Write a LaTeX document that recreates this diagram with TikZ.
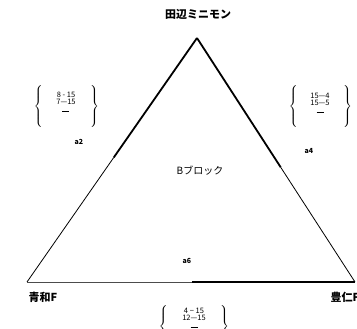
\documentclass[tikz,border=0pt]{standalone}
\usepackage{fontspec}
\newfontfamily\jpfont{Noto Sans CJK JP}
\usetikzlibrary{calc}

\newcommand{\lbr}{$\left\{\rule[-20pt]{0pt}{40pt}\right.$}
\newcommand{\rbr}{$\left.\rule[-20pt]{0pt}{40pt}\right\}$}

\begin{document}
\begin{tikzpicture}[x=1pt,y=-1pt,line join=round,
    station/.style={font=\jpfont\bfseries\fontsize{11}{12}\selectfont},
    tag/.style={font=\jpfont\bfseries\fontsize{7}{8}\selectfont},
    group/.style={font=\jpfont\fontsize{7.5}{7.5}\selectfont,inner sep=0pt,align=center},
    brc/.style={inner sep=0pt}]
  \useasboundingbox (0,0) rectangle (357,329);
  \coordinate (T) at (197,38);
  \coordinate (L) at (27,282);
  \coordinate (R) at (355,282);
  \coordinate (LM) at ($(T)!0.49!(L)$);
  \coordinate (RM) at ($(T)!0.53!(R)$);
  \coordinate (BM) at (192,282);
  % edges of the triangle
  \draw[line width=1.8pt] (T) -- (LM);
  \draw[line width=0.8pt] (LM) -- (L);
  \draw[line width=1.8pt] (T) -- (RM);
  \draw[line width=0.8pt] (RM) -- (R);
  \draw[line width=0.9pt,black!70] (L) -- (BM);
  \draw[line width=1.8pt] (BM) -- (R);
  % stations
  \node[station] (tanabe) at (198,14) {田辺ミニモン};
  \node[station] (seiwa) at (43,297) {青和F};
  \node[station,anchor=west] (toyohito) at (327,297) {豊仁F};
  \node[font=\jpfont\fontsize{10}{11}\selectfont] (block) at (200,171) {Bブロック};
  % links
  \node[tag] (a2) at (79,142) {a2};
  \node[tag] (a4) at (309,151) {a4};
  \node[tag] (a6) at (187,261) {a6};
  % groups in braces
  \node[group] (grpA) at (66,103) {8 - 15\\7—15\\[1.5pt]\rule[2pt]{7pt}{0.5pt}};
  \node[brc] (grpAl) at (39,107) {\lbr};
  \node[brc] (grpAr) at (94,107) {\rbr};
  \node[group] (grpB) at (320,104) {15—4\\15—5\\[1.5pt]\rule[2pt]{7pt}{0.5pt}};
  \node[brc] (grpBl) at (294,107) {\lbr};
  \node[brc] (grpBr) at (347,107) {\rbr};
  \node[group] (grpC) at (194,319) {4 − 15\\12—15\\[1.5pt]\rule[2pt]{7pt}{0.5pt}};
  \node[brc] (grpCl) at (164,327) {\lbr};
  \node[brc] (grpCr) at (224,327) {\rbr};
\end{tikzpicture}
\end{document}
